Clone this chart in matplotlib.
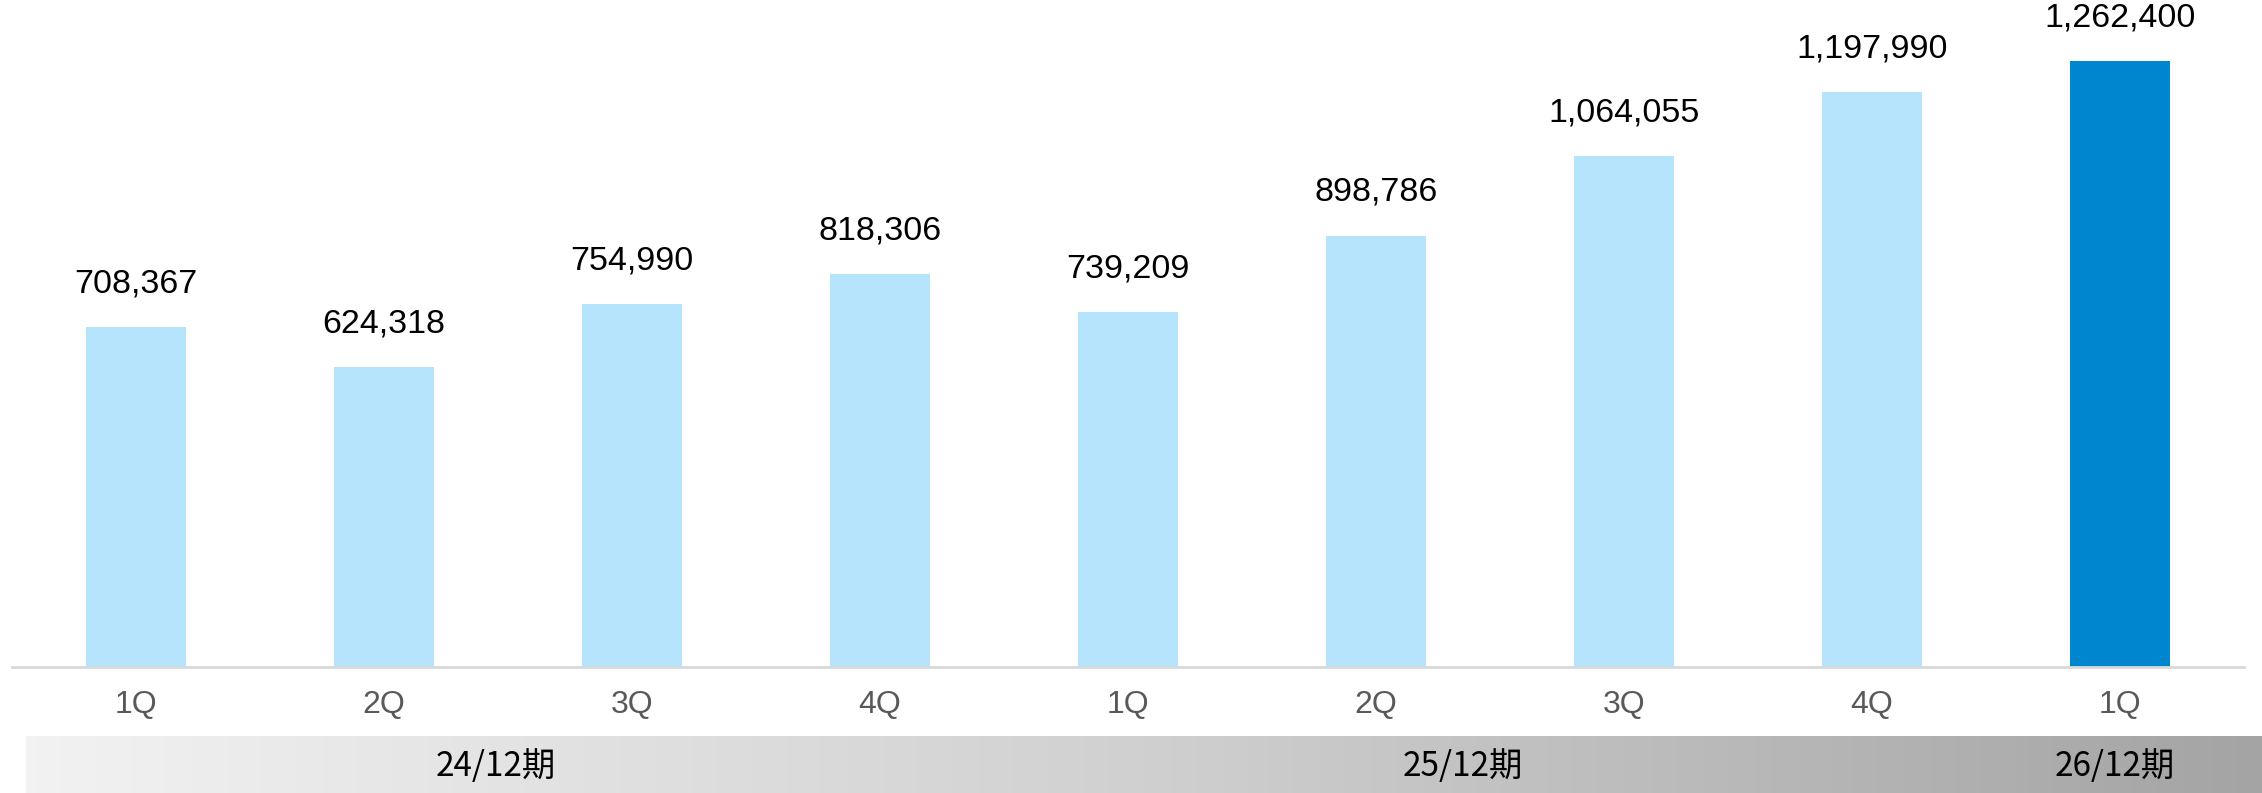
import numpy as np
import matplotlib
matplotlib.use("Agg")
import matplotlib.pyplot as plt
from matplotlib.colors import LinearSegmentedColormap

quarters = ["1Q", "2Q", "3Q", "4Q", "1Q", "2Q", "3Q", "4Q", "1Q"]
values = [708367, 624318, 754990, 818306, 739209, 898786, 1064055, 1197990, 1262400]
periods = ["24/12期", "25/12期", "26/12期"]
period_pos = [1.45, 5.35, 7.98]

plt.rcParams["font.family"] = ["Liberation Sans", "DejaVu Sans"]

W, H = 2262, 793
fig = plt.figure(figsize=(W / 100, H / 100), dpi=100)
ax = fig.add_axes([12 / W, 1 - 666.5 / H, 2232 / W, 666.5 / H])

colors = ["#b7e4fd"] * (len(values) - 1) + ["#0086cf"]
x = np.arange(len(values))
ax.bar(x, values, width=0.4, color=colors, zorder=2)
ax.set_xlim(-0.5, len(values) - 0.5)
ax.set_ylim(0, 1.39e6)

for xi, v in zip(x, values):
    ax.annotate(f"{v:,}", (xi, v), xytext=(0, 31), textcoords="offset points",
                ha="center", va="center", fontsize=24.5, color="black")

for s in ["top", "right", "left"]:
    ax.spines[s].set_visible(False)
ax.spines["bottom"].set_color("#d9d9d9")
ax.spines["bottom"].set_linewidth(2)
ax.set_yticks([])
ax.set_xticks(x)
ax.set_xticklabels(quarters, fontsize=23, color="#595959")
ax.tick_params(axis="x", length=0, pad=17)

# gradient band with fiscal year labels (same x units as the bars)
unit = 2232 / len(values)
bx0 = (26 - 12) / unit - 0.5
bx1 = (W - 12) / unit - 0.5
band = fig.add_axes([26 / W, 0, 1 - 26 / W, 57 / H])
cmap = LinearSegmentedColormap.from_list("band", ["#f2f2f2", "#d0d0d0", "#a4a4a4"])
band.imshow(np.linspace(0, 1, 256).reshape(1, -1), aspect="auto", cmap=cmap,
            extent=(bx0, bx1, 0, 1))
band.set_xlim(bx0, bx1)
band.set_ylim(0, 1)
band.axis("off")
for p, px in zip(periods, period_pos):
    band.text(px, 0.47, p, ha="center", va="center", fontsize=24, color="black",
              family=["Noto Sans CJK JP", "DejaVu Sans"])

fig.savefig("out.png", dpi=100)
